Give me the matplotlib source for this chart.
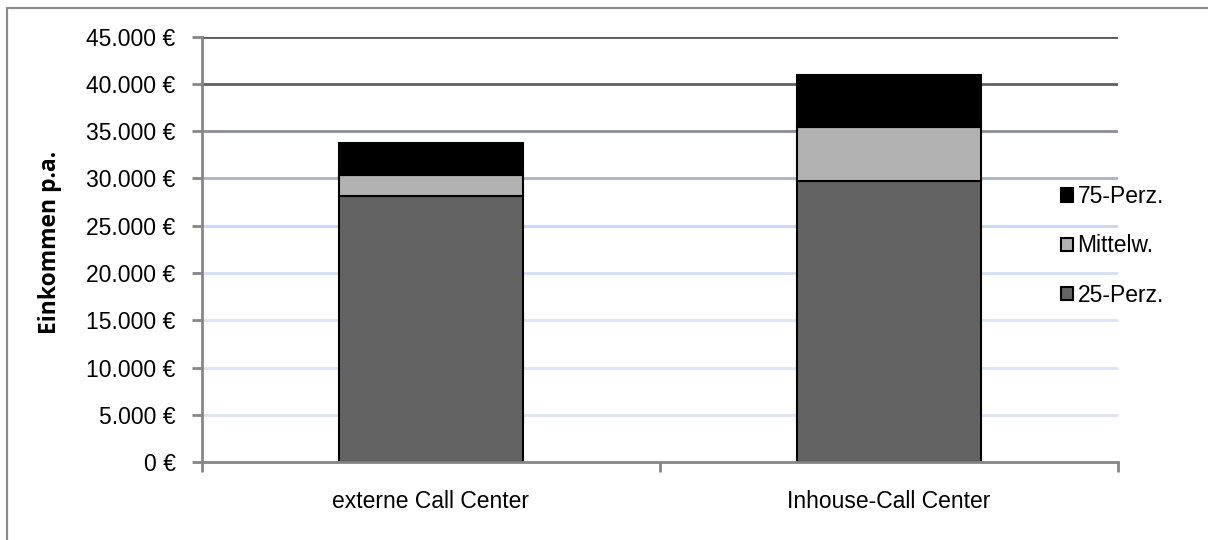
import numpy as np
import matplotlib.pyplot as plt
from matplotlib.patches import Rectangle
from matplotlib.ticker import FuncFormatter

# Einkommen nach Call-Center-Typ (Quartile und Mittelwert)
categories = ['externe Call Center', 'Inhouse-Call Center']
p25 = [28150, 29750]
mittel = [30400, 35450]
p75 = [33800, 41000]
series_names = ['25-Perz.', 'Mittelw.', '75-Perz.']
colors = ['#636363', '#b2b2b2', '#000000']
yticks = np.arange(0, 45001, 5000)
# gridlines fade from dark grey at the top to light blue at the bottom
grid_colors = ['#dbe4f4', '#dbe4f4', '#dbe4f4', '#dbe4f4', '#d6e0f2',
               '#c8d6ee', '#a9b3c6', '#8b8e96', '#606065', '#58585a']

plt.rcParams['font.family'] = ['Liberation Sans', 'DejaVu Sans']

fig = plt.figure(figsize=(12.08, 5.4), dpi=100)
ax = fig.add_axes([0.1672, 0.1444, 0.7583, 0.7876])

# outer chart frame (runs off the right and bottom edge)
fig.patches.append(Rectangle((7 / 1208, -0.1), 1.2, 1 - 8 / 540 + 0.1,
                             transform=fig.transFigure, fill=False,
                             edgecolor='#8c8c8c', linewidth=1.6))

for y, c in zip(yticks[1:], grid_colors[1:]):
    ax.axhline(y, color=c, linewidth=2, zorder=0)

x = np.arange(len(categories))
segments = [np.array(p25),
            np.array(mittel) - np.array(p25),
            np.array(p75) - np.array(mittel)]
bottom = np.zeros(len(categories))
handles = []
for seg, col, name in zip(segments, colors, series_names):
    h = ax.bar(x, seg, width=0.4, bottom=bottom, color=col,
               edgecolor='black', linewidth=1.5, label=name, zorder=2)
    handles.append(h)
    bottom += seg

ax.set_xlim(-0.5, 1.5)
ax.set_ylim(0, 45000)
ax.set_yticks(yticks)
ax.yaxis.set_major_formatter(FuncFormatter(
    lambda v, p: '{:,.0f} €'.format(v).replace(',', '.')))
ax.set_xticks(x)
ax.set_xticklabels(categories)
ax.set_xticks([-0.5, 0.5, 1.5], minor=True)
ax.tick_params(axis='x', which='major', length=0, pad=20, labelsize=16.5)
ax.tick_params(axis='x', which='minor', length=7, width=2, color='#868686')
ax.tick_params(axis='y', length=7, width=2, color='#868686', labelsize=16.5, pad=12)

for s in ['top', 'right']:
    ax.spines[s].set_visible(False)
for s in ['left', 'bottom']:
    ax.spines[s].set_color('#868686')
    ax.spines[s].set_linewidth(2)

fig.text(50 / 1208, 1 - 242 / 540, 'Einkommen p.a.', rotation=90,
         ha='center', va='center', fontsize=16.5, fontweight='bold',
         family=['Open Sans', 'DejaVu Sans'])

leg = fig.legend(handles[::-1], series_names[::-1], loc='center left',
                 bbox_to_anchor=(1061 / 1208, 1 - 246 / 540), frameon=False,
                 fontsize=16.5, handlelength=0.52, handleheight=0.52,
                 handletextpad=0.2, labelspacing=1.15, borderpad=0,
                 borderaxespad=0)

fig.savefig('out.png', dpi=100)
